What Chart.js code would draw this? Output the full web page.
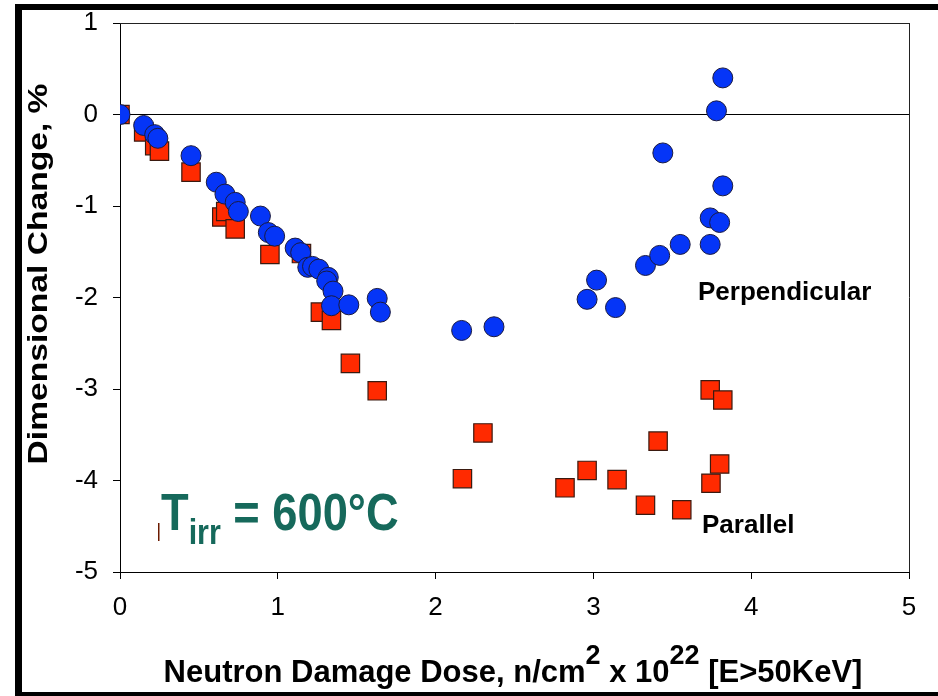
<!DOCTYPE html>
<html><head><meta charset="utf-8">
<script src="https://cdn.jsdelivr.net/npm/chart.js@4.4.1/dist/chart.umd.min.js"></script>
<style>html,body{margin:0;padding:0;background:#fff;}canvas{display:block;}</style>
</head><body>
<canvas id="c" width="938" height="696"></canvas>
<script>
// ---- data ----
const seriesNames = ['Perpendicular', 'Parallel'];
const perpDose = [0, 0.15, 0.22, 0.24, 0.45, 0.61, 0.665, 0.73, 0.75, 0.89, 0.94, 0.98, 1.11, 1.145, 1.19, 1.22, 1.26, 1.32, 1.31, 1.35, 1.34, 1.45, 1.63, 1.65, 2.165, 2.37, 2.96, 3.02, 3.14, 3.33, 3.42, 3.55, 3.44, 3.74, 3.74, 3.80, 3.82, 3.78, 3.82];
const perpChange = [0, -0.12, -0.22, -0.26, -0.45, -0.74, -0.87, -0.96, -1.06, -1.11, -1.29, -1.33, -1.46, -1.51, -1.67, -1.66, -1.69, -1.78, -1.82, -1.93, -2.09, -2.08, -2.01, -2.16, -2.36, -2.32, -2.02, -1.81, -2.11, -1.65, -1.54, -1.42, -0.42, -1.42, -1.13, -1.18, -0.78, 0.04, 0.40];
const paraDose = [0, 0.15, 0.22, 0.25, 0.45, 0.645, 0.67, 0.73, 0.95, 1.15, 1.27, 1.34, 1.46, 1.63, 2.17, 2.30, 2.82, 2.96, 3.15, 3.33, 3.41, 3.56, 3.74, 3.82, 3.80, 3.745];
const paraChange = [0, -0.19, -0.34, -0.40, -0.63, -1.12, -1.06, -1.25, -1.53, -1.52, -2.16, -2.25, -2.72, -3.02, -3.98, -3.48, -4.08, -3.89, -3.99, -4.27, -3.57, -4.32, -3.01, -3.12, -3.82, -4.03];
const xTicks = [0, 1, 2, 3, 4, 5];
const yTicks = [1, 0, -1, -2, -3, -4, -5];
const yTitle = 'Dimensional Change, %';
const xTitleParts = [['Neutron Damage Dose, n/cm', false], ['2', true], [' x 10', false], ['22', true], [' [E>50KeV]', false]];
const tempLabel = ['T', 'irr', ' = 600\u00B0C'];

const toPts = (xs, ys) => xs.map((x, i) => ({x: x, y: ys[i]}));
const FONT = "'Liberation Sans', Arial, sans-serif";

const deco = {
  id: 'deco',
  beforeDatasetsDraw(chart) {
    const {ctx, chartArea: a} = chart;
    ctx.save();
    ctx.strokeStyle = '#222';
    ctx.lineWidth = 1;
    ctx.beginPath();
    ctx.moveTo(a.left, a.top + 0.5); ctx.lineTo(a.right + 0.5, a.top + 0.5);
    ctx.moveTo(a.right + 0.5, a.top); ctx.lineTo(a.right + 0.5, a.bottom);
    ctx.stroke();
    ctx.restore();
  },
  afterDraw(chart) {
    const {ctx} = chart;
    ctx.save();
    // outer black frame of the picture
    ctx.fillStyle = '#000';
    ctx.fillRect(15, 4, 923, 6);
    ctx.fillRect(15, 4, 7, 692);
    ctx.fillRect(15, 692, 923, 4);

    // y axis title
    ctx.save();
    ctx.translate(39, 274);
    ctx.rotate(-Math.PI / 2);
    ctx.scale(1.2, 1);
    ctx.font = 'bold 28px ' + FONT;
    ctx.fillStyle = '#000';
    ctx.textAlign = 'center';
    ctx.textBaseline = 'middle';
    ctx.fillText(yTitle, 0, 0);
    ctx.restore();

    // x axis title with superscripts
    const baseF = 'bold 31px ' + FONT, supF = 'bold 27px ' + FONT;
    let total = 0;
    xTitleParts.forEach(([t, sup]) => { ctx.font = sup ? supF : baseF; total += ctx.measureText(t).width; });
    let x = 513 - total / 2;
    ctx.fillStyle = '#000';
    ctx.textBaseline = 'alphabetic';
    ctx.textAlign = 'left';
    xTitleParts.forEach(([t, sup]) => {
      ctx.font = sup ? supF : baseF;
      ctx.fillText(t, x, sup ? 664 : 682);
      x += ctx.measureText(t).width;
    });

    // series labels
    ctx.font = 'bold 26px ' + FONT;
    ctx.fillText(seriesNames[0], 698, 300);
    ctx.fillText(seriesNames[1], 702, 533);

    // temperature label (condensed bold, teal)
    ctx.save();
    ctx.fillStyle = '#16695B';
    ctx.translate(161, 0);
    ctx.scale(0.87, 1);
    ctx.font = 'bold 52px ' + FONT;
    ctx.fillText(tempLabel[0], 0, 530);
    let w = ctx.measureText(tempLabel[0]).width;
    ctx.font = 'bold 35px ' + FONT;
    ctx.fillText(tempLabel[1], w, 544);
    w += ctx.measureText(tempLabel[1]).width;
    ctx.font = 'bold 52px ' + FONT;
    ctx.fillText(tempLabel[2], w, 530);
    ctx.restore();
    ctx.fillStyle = '#6B1A00';
    ctx.fillRect(158, 523, 1.5, 18);
    ctx.restore();
  }
};

new Chart(document.getElementById('c'), {
  type: 'scatter',
  data: {
    datasets: [
      {label: seriesNames[0], data: toPts(perpDose, perpChange), order: 0,
       pointStyle: 'circle', pointRadius: 10, pointHoverRadius: 10,
       backgroundColor: '#0535F7', borderColor: '#1a1a40', borderWidth: 1},
      {label: seriesNames[1], data: toPts(paraDose, paraChange), order: 1,
       pointStyle: 'rect', pointRadius: 13, pointHoverRadius: 13,
       backgroundColor: '#FF2A00', borderColor: '#3a1a10', borderWidth: 1.2}
    ]
  },
  options: {
    responsive: false,
    animation: false,
    devicePixelRatio: 1,
    layout: {padding: {left: 0, right: 29, top: 23, bottom: 0}},
    plugins: {legend: {display: false}, tooltip: {enabled: false}},
    scales: {
      x: {
        type: 'linear', min: 0, max: 5,
        afterBuildTicks: s => { s.ticks = xTicks.map(v => ({value: v})); },
        afterFit: s => { s.height = 124; s.paddingLeft = 0; s.paddingRight = 0; },
        grid: {drawOnChartArea: false, color: '#000', tickColor: '#000', tickLength: 7},
        border: {display: true, color: '#000', width: 1},
        ticks: {color: '#000', font: {family: FONT, size: 26}, padding: 13, maxRotation: 0}
      },
      y: {
        type: 'linear', min: -5, max: 1,
        afterBuildTicks: s => { s.ticks = yTicks.map(v => ({value: v})); },
        afterFit: s => { s.width = 120; s.paddingTop = 0; s.paddingBottom = 0; },
        grid: {drawOnChartArea: true, color: c => (c.tick && c.tick.value === 0) ? '#000' : 'rgba(0,0,0,0)', tickColor: '#000', tickLength: 7},
        border: {display: true, color: '#000', width: 1},
        ticks: {color: '#000', font: {family: FONT, size: 26}, padding: 15}
      }
    }
  },
  plugins: [deco]
});
</script>
</body></html>
